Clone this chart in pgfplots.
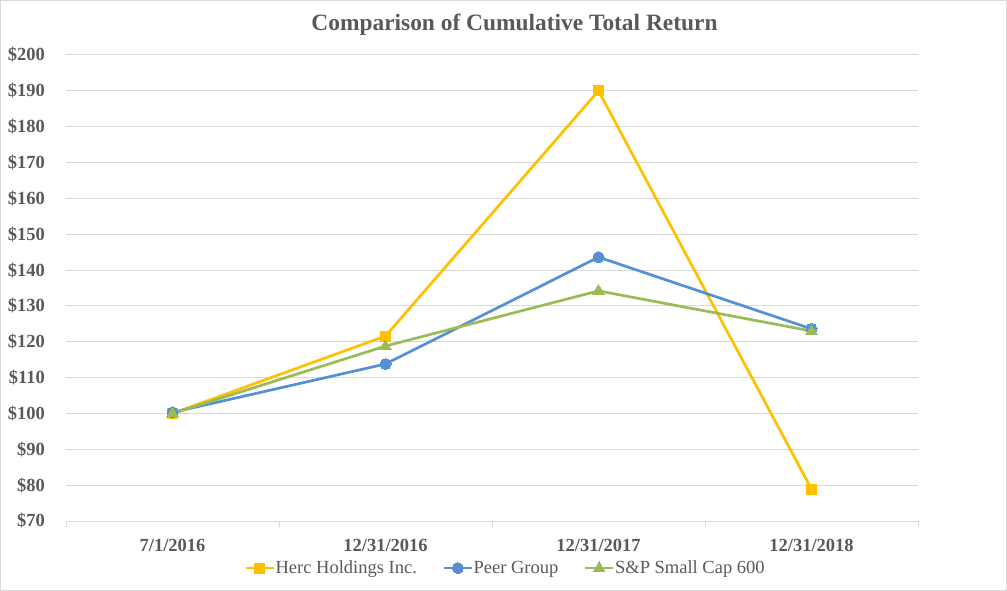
\documentclass[border=0pt]{standalone}
\usepackage{fontspec}
\setmainfont{Liberation Serif}
\usepackage{pgfplots}
\pgfplotsset{compat=1.18}
\definecolor{herc}{HTML}{FFC000}
\definecolor{peer}{HTML}{5690D4}
\definecolor{snp}{HTML}{9BBB59}
\definecolor{txt}{HTML}{595959}
\definecolor{gridc}{HTML}{D9D9D9}
\begin{document}
\begin{tikzpicture}
\useasboundingbox (0,0) rectangle (1007bp,591bp);
\draw[gridc, line width=1bp] (0.5bp,0.5bp) rectangle (1006.5bp,590.5bp);
\node[anchor=base, text=txt, font=\fontsize{23.4bp}{27bp}\selectfont\bfseries] at (514.5bp,560bp) {Comparison of Cumulative Total Return};
\begin{axis}[
  at={(66bp,70bp)}, anchor=south west,
  width=852bp, height=466bp, scale only axis,
  xmin=-0.5, xmax=3.5, ymin=70, ymax=200,
  axis line style={draw=none},
  xtick={0,1,2,3},
  xticklabels={7/1/2016,12/31/2016,12/31/2017,12/31/2018},
  ytick={70,80,...,200},
  yticklabels={\$70,\$80,\$90,\$100,\$110,\$120,\$130,\$140,\$150,\$160,\$170,\$180,\$190,\$200},
  major tick length=0pt,
  xtick pos=bottom,
  ymajorgrids, grid style={gridc, line width=1bp},
  tick label style={text=txt, font=\fontsize{18.5bp}{21bp}\selectfont\bfseries},
  yticklabel style={inner sep=0pt, anchor=east, xshift=-21bp},
  xticklabel style={inner sep=0pt, anchor=north, yshift=-18bp},
  extra x ticks={-0.5,0.5,1.5,2.5,3.5},
  extra x tick labels={},
  extra x tick style={major tick length=6bp, tick align=outside, xtick pos=bottom, xmajorgrids=false, tick style={gridc, line width=1bp}},
  legend columns=3,
  legend style={at={(0.515,-0.1009)}, anchor=center, draw=none, fill=none,
    font=\fontsize{18.5bp}{21bp}\selectfont, text=txt,
    nodes={inner sep=0.5bp},
    /tikz/every even column/.append style={column sep=25bp}},
  legend image code/.code={\draw[mark repeat=2,mark phase=2] plot coordinates {(0bp,0bp)(14bp,0bp)(28bp,0bp)};},
]
\addplot[herc, line width=2.7bp, mark=square*, mark size=5bp, mark options={solid, line width=0pt}] coordinates {(0,100) (1,121.6) (2,190) (3,78.9)};
\addlegendentry{Herc Holdings Inc.}
\addplot[peer, line width=2.7bp, mark=*, mark size=5.5bp, mark options={solid, line width=0pt}] coordinates {(0,100.3) (1,113.8) (2,143.6) (3,123.6)};
\addlegendentry{Peer Group}
\addplot[snp, line width=2.7bp, mark=triangle*, mark size=6.5bp, mark options={solid, line width=0pt}] coordinates {(0,100) (1,118.8) (2,134.2) (3,123.0)};
\addlegendentry{S\&P Small Cap 600}
\end{axis}
\end{tikzpicture}
\end{document}
